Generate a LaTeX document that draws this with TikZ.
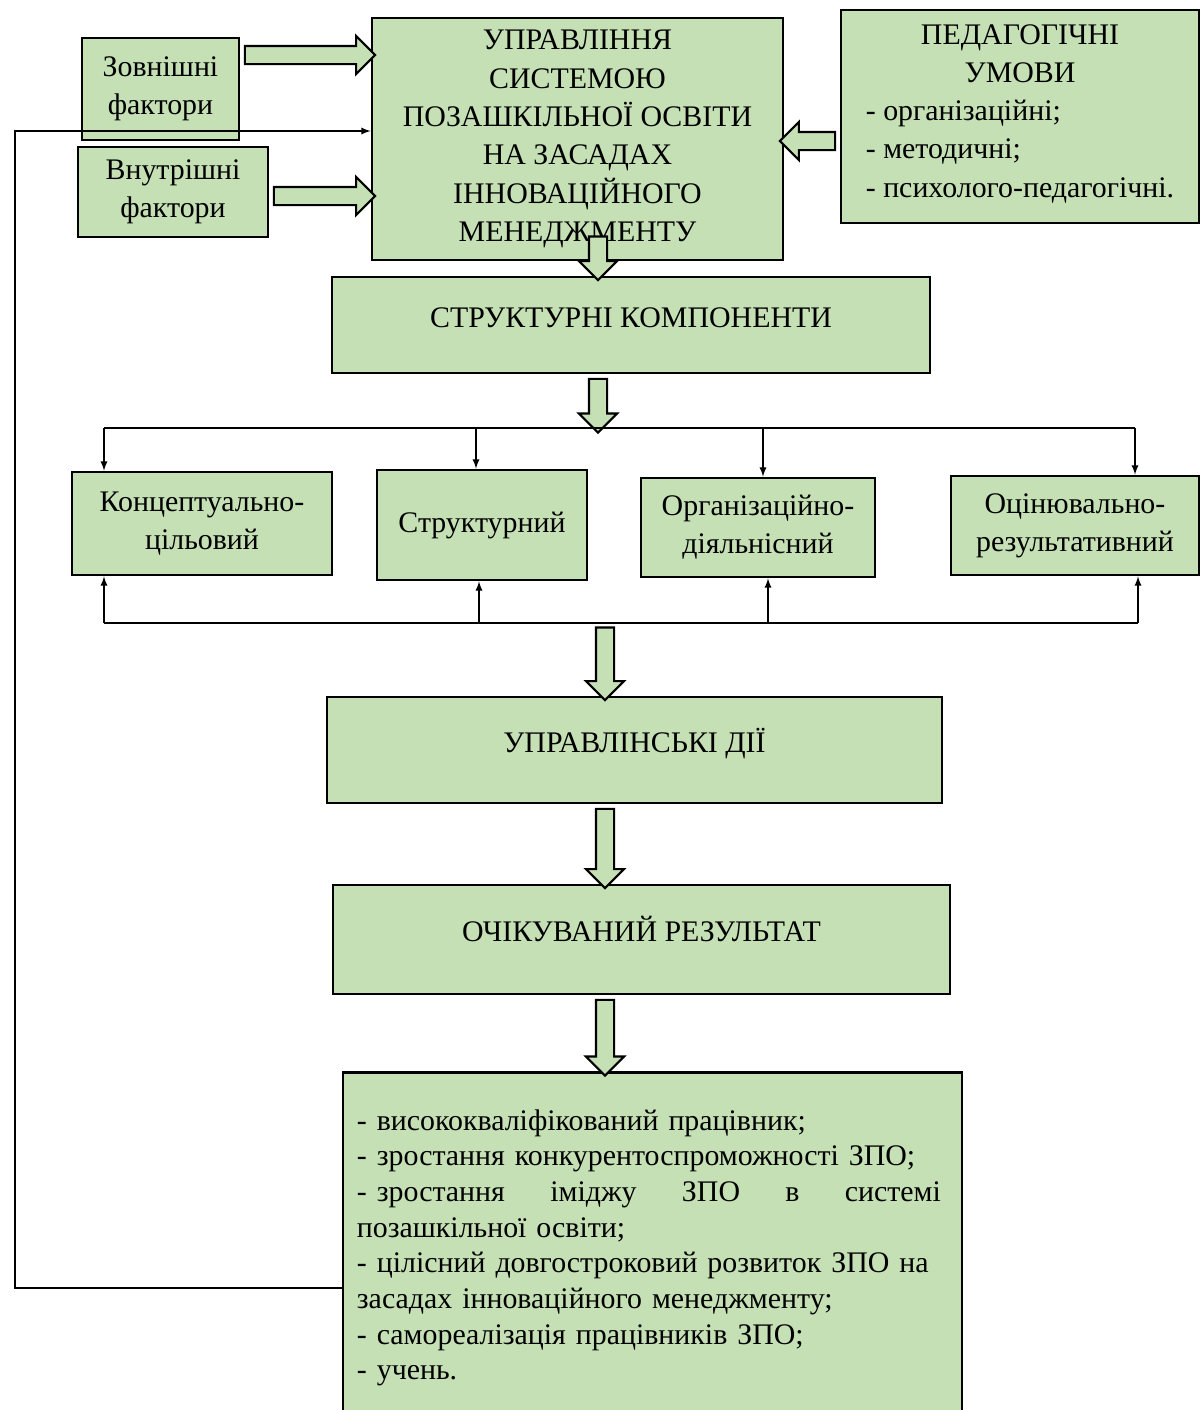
\documentclass[tikz,border=0pt]{standalone}
\usepackage{fontspec}
\setmainfont{Liberation Serif}
\usetikzlibrary{calc, positioning, arrows, shapes}

\definecolor{boxgreen}{RGB}{197,224,180}

% thick hollow arrow between two points
\newcommand{\fatarrow}[2]{%
  \path let \p1 = ($#2 - #1$), \n1 = {veclen(\x1,\y1)}, \n2 = {atan2(\y1,\x1)} in
    node[fat, minimum height=\n1, rotate=\n2] at ($#1!0.5!#2$) {};}

\begin{document}
\begin{tikzpicture}[blk/.style={draw, line width=1.6pt, fill=boxgreen, align=center, inner sep=0pt},
  fat/.style={single arrow, draw, line width=1.2pt, fill=boxgreen, inner sep=0pt, inner ysep=0.16cm,
    single arrow head extend=0.2cm, single arrow tip angle=90},
  lnk/.style={line width=0.8pt},
  every node/.append style={font=\fontsize{17}{21.8}\selectfont}, >=latex]
  \useasboundingbox (0,0) rectangle (24.04,-28.2);

  \node[blk, minimum width=3.14cm, minimum height=2.04cm] (ext) at (3.21,-1.78) {Зовнішні\\фактори};
  \node[blk, minimum width=3.8cm, minimum height=1.8cm] (int) at (3.46,-3.84) {Внутрішні\\фактори};
  \node[blk, minimum width=8.22cm, minimum height=4.84cm] (main) at (11.55,-2.78)
    {УПРАВЛІННЯ\\СИСТЕМОЮ\\ПОЗАШКІЛЬНОЇ ОСВІТИ\\НА ЗАСАДАХ\\ІННОВАЦІЙНОГО\\МЕНЕДЖМЕНТУ};
  \node[blk, minimum width=7.16cm, minimum height=4.26cm] (ped) at (20.4,-2.33)
    {ПЕДАГОГІЧНІ\\УМОВИ\\\begin{tabular}[t]{@{}l@{}}- організаційні;\\- методичні;\\- психолого-педагогічні.\end{tabular}};

  \node[blk, minimum width=11.96cm, minimum height=1.92cm, text height=0.4cm, text depth=0.32cm] (struct) at (12.62,-6.5) {СТРУКТУРНІ КОМПОНЕНТИ};

  \node[blk, minimum width=5.2cm, minimum height=2.06cm] (c1) at (4.04,-10.47) {Концептуально-\\цільовий};
  \node[blk, minimum width=4.2cm, minimum height=2.2cm] (c2) at (9.64,-10.5) {Структурний};
  \node[blk, minimum width=4.68cm, minimum height=1.98cm] (c3) at (15.16,-10.55) {Організаційно-\\діяльнісний};
  \node[blk, minimum width=4.96cm, minimum height=1.98cm] (c4) at (21.5,-10.51) {Оцінювально-\\результативний};

  \node[blk, minimum width=12.3cm, minimum height=2.12cm, text height=0.4cm, text depth=0.32cm] (act) at (12.69,-15.0) {УПРАВЛІНСЬКІ ДІЇ};
  \node[blk, minimum width=12.34cm, minimum height=2.18cm, text height=0.4cm, text depth=0.32cm] (exp) at (12.83,-18.79) {ОЧІКУВАНИЙ РЕЗУЛЬТАТ};

  \node[blk, minimum width=12.38cm, minimum height=7.0cm, anchor=north] (res) at (13.05,-21.42) {};
  \node[anchor=north west, text width=11.68cm, align=left, inner sep=0pt, font=\fontsize{17}{20.3}\selectfont] (restxt)
    at ([xshift=0.3cm, yshift=-0.76cm]res.north west)
    {- висококваліфікований працівник;\\
     - зростання конкурентоспроможності ЗПО;\\
     - зростання\hfill іміджу\hfill ЗПО\hfill в\hfill системі\\
     позашкільної освіти;\\
     - цілісний довгостроковий розвиток ЗПО на\\
     засадах інноваційного менеджменту;\\
     - самореалізація працівників ЗПО;\\
     - учень.};

  % fat arrows
  \fatarrow{(ext.east |- 0,-1.1)}{(main.west |- 0,-1.1)}
  \fatarrow{(int.east |- 0,-3.92)}{(main.west |- 0,-3.92)}
  \fatarrow{(ped.west |- 0,-2.82)}{(main.east |- 0,-2.82)}
  \coordinate (ax) at (11.96,-4.64);
  \coordinate (bx) at (12.1,-12.46);
  \coordinate (t1) at (2.08,-8.56);
  \coordinate (t2) at (9.52,-8.56);
  \coordinate (t3) at (15.26,-8.56);
  \coordinate (t4) at (22.7,-8.56);
  \coordinate (b1) at (2.08,-12.46);
  \coordinate (b2) at (9.58,-12.46);
  \coordinate (b3) at (15.36,-12.46);
  \coordinate (b4) at (22.76,-12.46);
  \fatarrow{(ax)}{(ax |- struct.north)}
  \fatarrow{(struct.south -| ax)}{(t1 -| ax)}
  \fatarrow{(bx)}{(bx |- act.north)}
  \fatarrow{(act.south -| bx)}{(exp.north -| bx)}
  \fatarrow{(exp.south -| bx)}{(res.north -| bx)}

  % branches
  \draw[lnk] (t1) -- (t4);
  \draw[lnk,->] (t1) -- (t1 |- c1.north);
  \draw[lnk,->] (t2) -- (t2 |- c2.north);
  \draw[lnk,->] (t3) -- (t3 |- c3.north);
  \draw[lnk,->] (t4) -- (t4 |- c4.north);
  \draw[lnk] (b1) -- (b4);
  \draw[lnk,->] (b1) -- (b1 |- c1.south);
  \draw[lnk,->] (b2) -- (b2 |- c2.south);
  \draw[lnk,->] (b3) -- (b3 |- c3.south);
  \draw[lnk,->] (b4) -- (b4 |- c4.south);

  % feedback
  \coordinate (fb) at (0.3,-25.76);
  \coordinate (ft) at (0.3,-2.62);
  \draw[lnk,->] (res.west |- fb) -- (fb) -- (ft) -- (main.west |- ft);
\end{tikzpicture}
\end{document}
